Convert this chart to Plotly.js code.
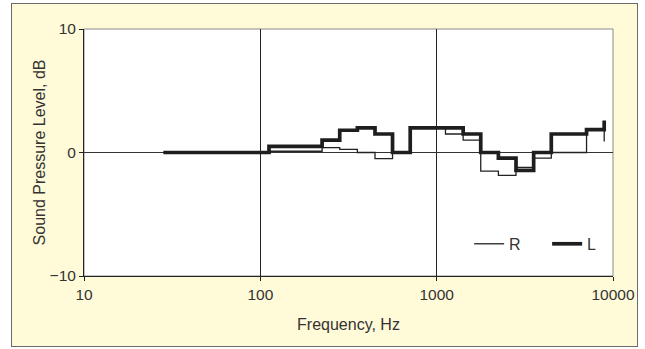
<!DOCTYPE html>
<html>
<head>
<meta charset="utf-8">
<script src="https://cdn.plot.ly/plotly-3.0.1.min.js"></script>
<style>
  html, body { margin: 0; padding: 0; background: #ffffff; }
  #frame { position: absolute; left: 11px; top: 3px; width: 625px; height: 342px;
           border: 1px solid #6b6b6b; background: #fffad8; }
  #chart { width: 625px; height: 342px; }
</style>
</head>
<body>
<div id="frame"><div id="chart"></div></div>
<script>
// Band edges (Hz) where each step begins, and the level of each step (dB)
const freqR = [28.2, 112, 224, 282, 355, 447, 562, 708, 1122, 1413, 1778, 2239, 2818, 3548, 4467, 7079, 8913];
const levelR = [0, 0.1, 0.4, 0.25, 0, -0.5, 0, 2.0, 1.5, 1.0, -1.5, -1.85, -1.2, -0.45, 0, 1.8, 0.9];

const freqL = [28.2, 112, 224, 282, 355, 447, 562, 708, 1413, 1778, 2239, 2818, 3548, 4467, 7079, 8913];
const levelL = [0, 0.5, 1.0, 1.8, 2.0, 1.5, 0, 2.0, 1.5, 0, -0.45, -1.45, 0, 1.5, 1.85, 2.6];

const xTickVals = [10, 100, 1000, 10000];
const xTickText = ['10', '100', '1000', '10000'];
const yTickVals = [-10, 0, 10];
const yTickText = ['\u221210', '0', '10'];

const traces = [
  { x: freqR, y: levelR, name: 'R', type: 'scatter', mode: 'lines',
    line: { shape: 'hv', color: '#222222', width: 1.3 } },
  { x: freqL, y: levelL, name: 'L', type: 'scatter', mode: 'lines',
    line: { shape: 'hv', color: '#1e1e1e', width: 3.7 } }
];

const layout = {
  width: 625, height: 342,
  margin: { l: 72, r: 22, t: 25, b: 70 },
  paper_bgcolor: '#fffad8',
  plot_bgcolor: '#ffffff',
  font: { family: 'Liberation Sans, Arial, sans-serif', size: 16, color: '#333333' },
  showlegend: true,
  legend: { orientation: 'h', x: 0.728, y: 0.13, xanchor: 'left', yanchor: 'middle',
            entrywidth: 33, entrywidthmode: 'pixels',
            bgcolor: 'rgba(0,0,0,0)', font: { size: 16, color: '#333333' } },
  xaxis: {
    type: 'log', range: [1, 4],
    tickvals: xTickVals, ticktext: xTickText,
    showgrid: true, gridcolor: '#222222', gridwidth: 1,
    showline: true, linecolor: '#222222', linewidth: 1,
    ticks: 'outside', ticklen: 4, tickcolor: '#222222',
    zeroline: false,
    tickfont: { size: 15.5, color: '#333333' },
    title: { text: 'Frequency, Hz', standoff: 17, font: { size: 16, color: '#333333' } }
  },
  yaxis: {
    range: [-10, 10],
    tickvals: yTickVals, ticktext: yTickText,
    showgrid: false,
    zeroline: true, zerolinecolor: '#333333', zerolinewidth: 1,
    showline: true, linecolor: '#222222', linewidth: 1,
    ticks: 'outside', ticklen: 4, tickcolor: '#222222',
    tickfont: { size: 15.5, color: '#333333' },
    title: { text: 'Sound Pressure Level, dB', standoff: 0, font: { size: 16, color: '#333333' } }
  },
  shapes: [
    { type: 'rect', xref: 'paper', yref: 'paper', x0: 0, x1: 1, y0: 0, y1: 1,
      line: { color: '#8a8a8a', width: 1 }, layer: 'below' }
  ]
};

Plotly.newPlot('chart', traces, layout, { displayModeBar: false, staticPlot: true });
</script>
</body>
</html>
